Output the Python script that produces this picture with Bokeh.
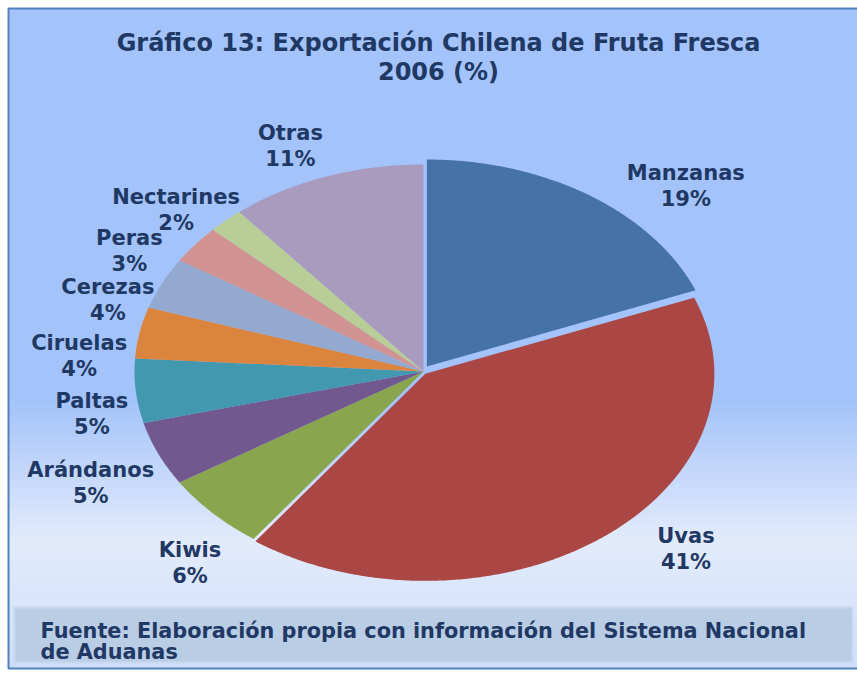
import numpy as np
from bokeh.plotting import figure
from bokeh.models import Range1d
from bokeh.embed import file_html
from bokeh.resources import INLINE
from bokeh.core.properties import value

# ---------------- data ----------------
categories = ["Manzanas", "Uvas", "Kiwis", "Arándanos", "Paltas",
              "Ciruelas", "Cerezas", "Peras", "Nectarines", "Otras"]
shares = [19, 41, 6, 5, 5, 4, 4, 3, 2, 11]
colors = ["#4572A7", "#AA4643", "#89A54E", "#71588F", "#4198AF",
          "#DB843D", "#93A9CF", "#D19392", "#B9CD96", "#A99BBD"]
title_lines = ["Gráfico 13: Exportación Chilena de Fruta Fresca", "2006 (%)"]
source_lines = ["Fuente: Elaboración propia con información del Sistema Nacional",
                "de Aduanas"]

# ---------------- layout ----------------
W, H = 857, 673
TXT = "#1F3864"


def Y(py):  # screen pixel (from top) -> data y
    return H - py


p = figure(width=W, height=H, x_range=Range1d(0, W), y_range=Range1d(0, H),
           output_backend="svg", toolbar_location=None, min_border=0)
p.axis.visible = False
p.grid.visible = False
p.outline_line_color = None
p.border_fill_color = "white"
p.background_fill_color = "white"

# background gradient (decoration) inside the frame
FL, FT, FB = 8, 8, 668
stops = [(FT, (164, 195, 250)), (400, (164, 195, 250)),
         (540, (226, 235, 251)), (FB, (206, 222, 250))]


def grad(py):
    for (a, ca), (b, cb) in zip(stops[:-1], stops[1:]):
        if a <= py <= b:
            t = (py - a) / (b - a)
            return "#%02x%02x%02x" % tuple(int(round(ca[k] + (cb[k] - ca[k]) * t)) for k in range(3))
    return "#%02x%02x%02x" % stops[-1][1]


step = 3
tops, bots, cols = [], [], []
for py in range(FT, FB, step):
    tops.append(Y(py))
    bots.append(Y(min(py + step, FB)) - 0.5)
    cols.append(grad(py + step / 2))
p.quad(left=FL, right=W + 5, top=tops, bottom=bots, fill_color=cols, line_color=None)

# frame (left, top, bottom edges; the right edge lies outside the picture)
p.multi_line(xs=[[W + 5, FL, FL, W + 5]], ys=[[Y(FT), Y(FT), Y(FB), Y(FB)]],
             line_color="#4F81BD", line_width=2)

# ---------------- pie ----------------
cx, cy = 423, Y(371)
rx, ry = 289, 207
explode = {0: 6, 1: 3}
cum = np.concatenate([[0], np.cumsum(shares)]) / sum(shares) * 2 * np.pi
xs, ys, mids = [], [], []
for i in range(len(shares)):
    a0, a1 = cum[i], cum[i + 1]
    m = (a0 + a1) / 2
    mids.append(m)
    e = explode.get(i, 0)
    ox, oy = cx + e * np.sin(m), cy + e * np.cos(m)
    t = np.linspace(a0, a1, max(3, int(np.degrees(a1 - a0) * 2) + 2))
    xs.append([ox] + list(ox + rx * np.sin(t)))
    ys.append([oy] + list(oy + ry * np.cos(t)))
p.patches(xs=xs, ys=ys, fill_color=colors, line_color=None)

# ---------------- labels ----------------
label_shift = [(83, 11), (67, -10), (-1, 29), (-40, 17), (-14, 20),
               (-31, 29), (-27, 29), (-42, 25), (-29, 11), (-25, -3)]
lx, ly_name, ly_pct = [], [], []
for i, m in enumerate(mids):
    bx = cx + (rx + 30) * np.sin(m) + label_shift[i][0]
    by = cy + (ry + 30) * np.cos(m) - label_shift[i][1]
    lx.append(bx)
    ly_name.append(by + 13)
    ly_pct.append(by - 13)
pct = ["%d%%" % v for v in shares]
common = dict(text_font=value("DejaVu Sans"), text_font_style="bold",
              text_font_size="21px", text_color=TXT, text_align="center",
              text_baseline="middle")
p.text(x=lx, y=ly_name, text=categories, **common)
p.text(x=lx, y=ly_pct, text=pct, **common)

# ---------------- title ----------------
p.text(x=[438, 438], y=[Y(42), Y(71)], text=title_lines,
       text_font=value("DejaVu Sans"), text_font_style="bold", text_font_size="24px",
       text_color=TXT, text_align="center", text_baseline="middle")

# ---------------- source box ----------------
p.quad(left=14, right=852, top=Y(607), bottom=Y(662), fill_color="#B9CDE4",
       line_color="#C8D9EF", line_width=2)
p.text(x=[40, 40], y=[Y(630), Y(651)], text=source_lines,
       text_font=value("DejaVu Sans"), text_font_style="bold",
       text_font_size="20.8px", text_color=TXT, text_align="left",
       text_baseline="middle")

open("out.html", "w").write(file_html(p, INLINE))
